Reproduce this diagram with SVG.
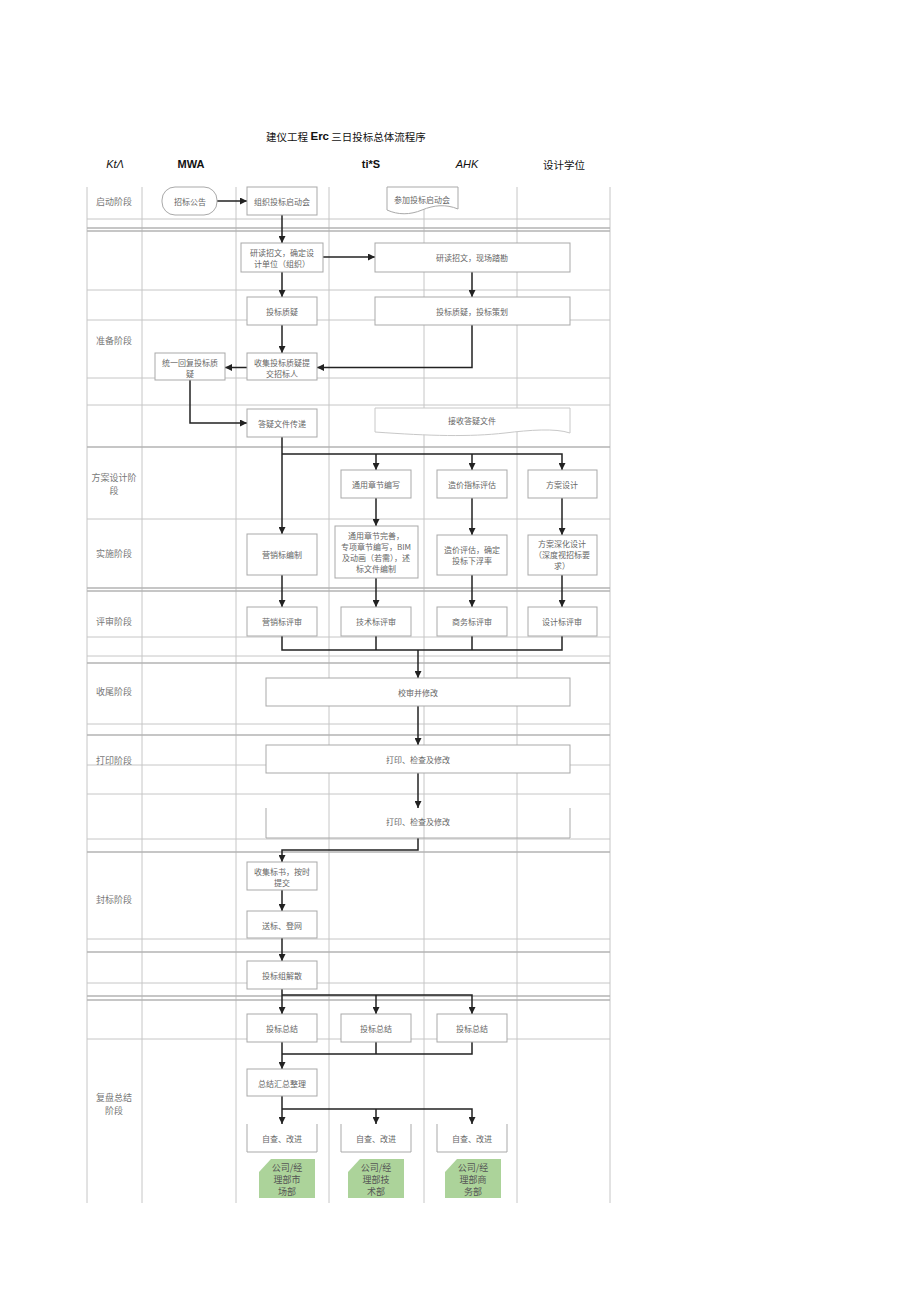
<svg xmlns="http://www.w3.org/2000/svg" width="920" height="1301" viewBox="0 0 920 1301">
<defs>
<marker id="a" markerWidth="7" markerHeight="7" refX="7" refY="3.5" orient="auto" markerUnits="userSpaceOnUse"><path d="M0,0 L7,3.5 L0,7 z" fill="#222"/></marker>
<style>
.g{stroke:#c6c6c6;stroke-width:1;fill:none}
.gd{stroke:#b4b4b4;stroke-width:1.3;fill:none}
.box{fill:#fff;stroke:#a9a9a9;stroke-width:1}
.open{fill:none;stroke:#a9a9a9;stroke-width:1}
.note{fill:#acd39a;stroke:none}
.t{font-family:"Noto Sans CJK SC",sans-serif;font-size:8px;fill:#666;text-anchor:middle;dominant-baseline:central}
.tn{font-family:"Noto Sans CJK SC",sans-serif;font-size:9px;fill:#555;text-anchor:middle;dominant-baseline:central}
.ph{font-family:"Noto Sans CJK SC",sans-serif;font-size:9px;fill:#777;text-anchor:middle;dominant-baseline:central}
.c{stroke:#222;stroke-width:1.5;fill:none}
.ca{stroke:#222;stroke-width:1.5;fill:none;marker-end:url(#a)}
.h{font-family:"Liberation Sans",Arial,sans-serif;font-size:11px;fill:#111;text-anchor:middle;dominant-baseline:central}
.hc{font-family:"Noto Sans CJK SC",sans-serif;font-size:10.5px;fill:#111;text-anchor:middle;dominant-baseline:central}
</style>
</defs>
<rect width="920" height="1301" fill="#fff"/>
<g id="header">
<text x="346" y="136" class="hc"><tspan>建仪工程 </tspan><tspan font-family="Liberation Sans, Arial, sans-serif" font-weight="bold" font-size="11.5">Erc</tspan><tspan> 三日投标总体流程序</tspan></text>
<text x="115" y="164" class="h" font-style="italic">KtΛ</text>
<text x="191" y="164" class="h" font-weight="bold">MWA</text>
<text x="371" y="164" class="h" font-weight="bold">ti*S</text>
<text x="467" y="164" class="h" font-style="italic">AHK</text>
<text x="564" y="164" class="hc">设计学位</text>
</g>
<g id="grid">
<path class="g" d="M87,187V1203M142,187V1203M236,187V1203M329,187V1203M424,187V1203M517,187V1203M610,187V1203"/>
<path class="g" d="M87,219H610M87,290H610M87,320H610M87,378H610M87,405H610M87,519H610M87,637H610M87,656H610M87,724H610M87,765H610M87,794H610M87,839H610M87,939H610M87,983H610M87,1039H610"/>
<path class="gd" d="M87,228H610M87,231H610M87,447H610M87,588H610M87,591H610M87,663H610M87,735H610M87,852H610M87,952H610M87,996H610M87,1000H610"/>
</g>
<g id="phases">
<text class="ph" x="114" y="201">启动阶段</text>
<text class="ph" x="114" y="340">准备阶段</text>
<text class="ph" x="114" y="477">方案设计阶</text>
<text class="ph" x="114" y="490">段</text>
<text class="ph" x="114" y="553">实施阶段</text>
<text class="ph" x="114" y="621">评审阶段</text>
<text class="ph" x="114" y="691">收尾阶段</text>
<text class="ph" x="114" y="760">打印阶段</text>
<text class="ph" x="114" y="899">封标阶段</text>
<text class="ph" x="114" y="1097">复盘总结</text>
<text class="ph" x="114" y="1110">阶段</text>
</g>
<g id="connectors">
<path class="ca" d="M217,201H247"/>
<path class="ca" d="M282,215V243"/>
<path class="ca" d="M323,257H375"/>
<path class="ca" d="M282,272V297"/>
<path class="ca" d="M472,272V297"/>
<path class="ca" d="M282,325V353"/>
<path class="ca" d="M472,325V367.5H317"/>
<path class="ca" d="M247,367.5H225"/>
<path class="ca" d="M190,380V423H247"/>
<path class="ca" d="M282,437V534"/>
<path class="ca" d="M282,454H562V470"/>
<path class="ca" d="M376,454V470"/>
<path class="ca" d="M472,454V470"/>
<path class="ca" d="M376,498V526"/>
<path class="ca" d="M472,498V535"/>
<path class="ca" d="M562,498V535"/>
<path class="ca" d="M282,575V607"/>
<path class="ca" d="M376,578V607"/>
<path class="ca" d="M472,575V607"/>
<path class="ca" d="M562,575V607"/>
<path class="c" d="M282,636V650H562V636M376,636V650M472,636V650"/>
<path class="ca" d="M418,650V678"/>
<path class="ca" d="M418,706V745"/>
<path class="ca" d="M418,773V808"/>
<path class="ca" d="M418,838V850H282V862"/>
<path class="ca" d="M282,890V911"/>
<path class="ca" d="M282,938V961"/>
<path class="ca" d="M282,989V1014"/>
<path class="ca" d="M282,995H472V1014"/>
<path class="ca" d="M376,995V1014"/>
<path class="c" d="M376,1042V1054M472,1042V1054H282"/>
<path class="ca" d="M282,1042V1069"/>
<path class="ca" d="M282,1096V1124"/>
<path class="ca" d="M282,1109H472V1124"/>
<path class="ca" d="M376,1109V1124"/>
</g>
<g id="n1"><rect class="box" x="162" y="187" width="55" height="28" rx="13"/><text class="t" x="190" y="201">招标公告</text></g>
<g id="n2"><rect class="box" x="247" y="187" width="70" height="28"/><text class="t" x="282" y="201">组织投标启动会</text></g>
<g id="n3"><path class="box" d="M387,187H458V209C446,204 434,205 422,210C410,215 398,215 387,210Z"/><text class="t" x="422" y="199">参加投标启动会</text></g>
<g id="n4"><rect class="box" x="241" y="243" width="82" height="29"/><text class="t" x="282" y="252">研读招文，确定设</text><text class="t" x="282" y="263">计单位（组织）</text></g>
<g id="n5"><rect class="box" x="375" y="243" width="195" height="29"/><text class="t" x="472" y="257">研读招文，现场踏勘</text></g>
<g id="n6"><rect class="box" x="247" y="297" width="70" height="28"/><text class="t" x="282" y="311">投标质疑</text></g>
<g id="n7"><rect class="box" x="375" y="297" width="195" height="28"/><text class="t" x="472" y="311">投标质疑，投标策划</text></g>
<g id="n8"><rect class="box" x="247" y="353" width="70" height="27"/><text class="t" x="282" y="362">收集投标质疑提</text><text class="t" x="282" y="373">交招标人</text></g>
<g id="n9"><rect class="box" x="155" y="353" width="70" height="27"/><text class="t" x="190" y="362">统一回复投标质</text><text class="t" x="190" y="373">疑</text></g>
<g id="n10"><rect class="box" x="247" y="409" width="70" height="28"/><text class="t" x="282" y="423">答疑文件传递</text></g>
<g id="n11"><path class="box" style="stroke:#c8c8c8" d="M375,408H570V433C555,428 530,430 505,433C470,437 430,436 375,432Z"/><text class="t" x="472" y="420">接收答疑文件</text></g>
<g id="n12"><rect class="box" x="341" y="470" width="70" height="28"/><text class="t" x="376" y="484">通用章节编写</text></g>
<g id="n13"><rect class="box" x="437" y="470" width="70" height="28"/><text class="t" x="472" y="484">造价指标评估</text></g>
<g id="n14"><rect class="box" x="528" y="470" width="69" height="28"/><text class="t" x="562" y="484">方案设计</text></g>
<g id="n15"><rect class="box" x="247" y="534" width="70" height="41"/><text class="t" x="282" y="554.5">营销标编制</text></g>
<g id="n16"><rect class="box" x="335" y="526" width="83" height="52"/><text class="t" x="376" y="535.5">通用章节完善，</text><text class="t" x="376" y="546.5">专项章节编写，BIM</text><text class="t" x="376" y="557.5">及动画（若需），述</text><text class="t" x="376" y="568.5">标文件编制</text></g>
<g id="n17"><rect class="box" x="437" y="535" width="70" height="40"/><text class="t" x="472" y="549.5">造价评估，确定</text><text class="t" x="472" y="560.5">投标下浮率</text></g>
<g id="n18"><rect class="box" x="528" y="535" width="69" height="40"/><text class="t" x="562" y="543">方案深化设计</text><text class="t" x="562" y="554">（深度视招标要</text><text class="t" x="562" y="565">求）</text></g>
<g id="n19"><rect class="box" x="247" y="607" width="70" height="29"/><text class="t" x="282" y="621.5">营销标评审</text></g>
<g id="n20"><rect class="box" x="341" y="607" width="70" height="29"/><text class="t" x="376" y="621.5">技术标评审</text></g>
<g id="n21"><rect class="box" x="437" y="607" width="70" height="29"/><text class="t" x="472" y="621.5">商务标评审</text></g>
<g id="n22"><rect class="box" x="528" y="607" width="69" height="29"/><text class="t" x="562" y="621.5">设计标评审</text></g>
<g id="n23"><rect class="box" x="266" y="678" width="304" height="28"/><text class="t" x="418" y="692">校审并修改</text></g>
<g id="n24"><rect class="box" x="266" y="745" width="304" height="28"/><text class="t" x="418" y="759">打印、检查及修改</text></g>
<g id="n25"><path class="open" d="M266,808V838H570V808"/><text class="t" x="418" y="821">打印、检查及修改</text></g>
<g id="n26"><rect class="box" x="247" y="862" width="70" height="28"/><text class="t" x="282" y="871">收集标书，按时</text><text class="t" x="282" y="882">提交</text></g>
<g id="n27"><rect class="box" x="247" y="911" width="70" height="27"/><text class="t" x="282" y="925">送标、登网</text></g>
<g id="n28"><rect class="box" x="247" y="961" width="70" height="28"/><text class="t" x="282" y="975">投标组解散</text></g>
<g id="n29"><rect class="box" x="247" y="1014" width="70" height="28"/><text class="t" x="282" y="1028">投标总结</text></g>
<g id="n30"><rect class="box" x="341" y="1014" width="70" height="28"/><text class="t" x="376" y="1028">投标总结</text></g>
<g id="n31"><rect class="box" x="437" y="1014" width="70" height="28"/><text class="t" x="472" y="1028">投标总结</text></g>
<g id="n32"><rect class="box" x="247" y="1069" width="70" height="27"/><text class="t" x="282" y="1083">总结汇总整理</text></g>
<g id="n33"><path class="open" d="M247,1124V1152H317V1124"/><text class="t" x="282" y="1138">自查、改进</text></g>
<g id="n34"><path class="open" d="M341,1124V1152H411V1124"/><text class="t" x="376" y="1138">自查、改进</text></g>
<g id="n35"><path class="open" d="M437,1124V1152H507V1124"/><text class="t" x="472" y="1138">自查、改进</text></g>
<g id="n36"><path class="note" d="M271,1159H315V1198H259V1172Z"/><text class="tn" x="287" y="1167.5">公司/经</text><text class="tn" x="287" y="1179.5">理部市</text><text class="tn" x="287" y="1191">场部</text></g>
<g id="n37"><path class="note" d="M360,1159H404V1198H348V1172Z"/><text class="tn" x="376" y="1167.5">公司/经</text><text class="tn" x="376" y="1179.5">理部技</text><text class="tn" x="376" y="1191">术部</text></g>
<g id="n38"><path class="note" d="M457,1159H501V1198H445V1172Z"/><text class="tn" x="473" y="1167.5">公司/经</text><text class="tn" x="473" y="1179.5">理部商</text><text class="tn" x="473" y="1191">务部</text></g>
</svg>
